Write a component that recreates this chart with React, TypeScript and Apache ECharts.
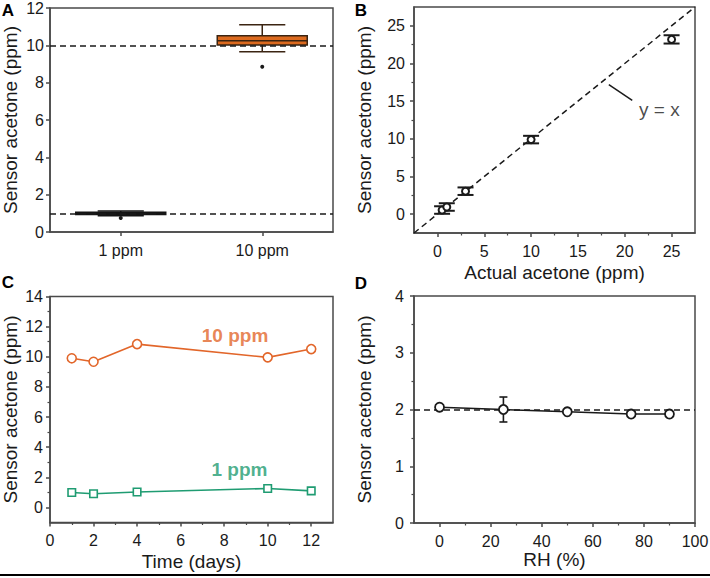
import React, { useEffect, useRef } from 'react';
import * as echarts from 'echarts';

// ---------- Panel A: box plot ----------
const boxCategories = ['1 ppm', '10 ppm'];
// [min, Q1, median, Q3, max]
const boxStats = [
  [0.87, 0.94, 1.0, 1.06, 1.12],
  [9.65, 10.02, 10.25, 10.52, 11.1],
];
const boxOutliers = [
  [0, 0.75],
  [1, 8.85],
];
const boxRefLines = [1, 10];
const aYTicks = [0, 2, 4, 6, 8, 10, 12];

// ---------- Panel B: accuracy ----------
const actualAcetone = [0.5, 1, 3, 10, 25];
const sensorAcetone = [0.55, 0.95, 3.05, 9.9, 23.2];
const sensorError = [0.5, 0.5, 0.5, 0.5, 0.55];
const identityLine = [-2.5, 27.5];
const identityLeader = [
  [18.3, 17.2],
  [20.8, 15.1],
];
const identityLabelPos = [23.7, 13.9];
const bTicks = [0, 5, 10, 15, 20, 25];
const bMinor = [2.5, 7.5, 12.5, 17.5, 22.5];

// ---------- Panel C: stability over days ----------
const days = [1, 2, 4, 10, 12];
const stability10 = [9.9, 9.67, 10.84, 9.96, 10.51];
const stability1 = [0.99, 0.91, 1.02, 1.26, 1.1];
const label10Pos = [8.5, 11.4];
const label1Pos = [8.7, 2.5];
const cXTicks = [0, 2, 4, 6, 8, 10, 12];
const cXMinor = [1, 3, 5, 7, 9, 11];
const cYTicks = [0, 2, 4, 6, 8, 10, 12, 14];
const cYMinor = [1, 3, 5, 7, 9, 11, 13];

// ---------- Panel D: humidity ----------
const humidity = [0, 25, 50, 75, 90];
const humiditySensor = [2.04, 2.0, 1.96, 1.92, 1.92];
const humidityError = [0.03, 0.22, 0.02, 0.02, 0.02];
const humidityRef = 2;
const dXTicks = [0, 20, 40, 60, 80, 100];
const dXMinor = [10, 30, 50, 70, 90];
const dYTicks = [0, 1, 2, 3, 4];
const dYMinor = [0.5, 1.5, 2.5, 3.5];

const FONT = '"Liberation Sans", Arial, Helvetica, sans-serif';
const INK = '#1a1a1a';
const FRAME = '#4a4a4a';
const ORANGE = '#e2662a';
const GREEN = '#1f9c72';
const BOX_FILL = ['#141414', '#dc6a1f'];
const BOX_STROKE = ['#141414', '#3b2412'];

type AxisSpec = {
  grid: number;
  dim: 'x' | 'y';
  min: number;
  max: number;
  majors: number[];
  minors: number[];
  name?: string;
  nameGap?: number;
  labelMargin: number;
};

function makeAxes(s: AxisSpec) {
  const common: any = {
    type: 'value',
    gridIndex: s.grid,
    min: s.min,
    max: s.max,
    position: s.dim === 'x' ? 'bottom' : 'left',
    splitLine: { show: false },
  };
  const main: any = {
    ...common,
    name: s.name,
    nameLocation: 'middle',
    nameGap: s.nameGap,
    nameTextStyle: { fontFamily: FONT, fontSize: 19, color: INK },
    axisLine: { show: true, onZero: false, lineStyle: { color: FRAME, width: 1.5 } },
    axisTick: {
      show: true,
      inside: false,
      length: 4,
      customValues: s.majors,
      lineStyle: { color: FRAME, width: 1.5 },
    },
    axisLabel: {
      show: true,
      margin: s.labelMargin,
      customValues: s.majors,
      fontFamily: FONT,
      fontSize: 16,
      color: INK,
    },
  };
  const minor: any = {
    ...common,
    axisLine: { show: false, onZero: false },
    axisTick: {
      show: true,
      inside: false,
      length: 2.5,
      customValues: s.minors,
      lineStyle: { color: FRAME, width: 1.2 },
    },
    axisLabel: { show: false },
  };
  return [main, minor];
}

function errorBarRenderer(capHalf: number, width: number) {
  return (params: any, api: any) => {
    const x = api.value(0);
    const y = api.value(1);
    const e = api.value(2);
    const top = api.coord([x, y + e]);
    const bot = api.coord([x, y - e]);
    const style = { stroke: INK, lineWidth: width, fill: 'none' };
    return {
      type: 'group',
      children: [
        { type: 'line', shape: { x1: top[0], y1: top[1], x2: bot[0], y2: bot[1] }, style },
        { type: 'line', shape: { x1: top[0] - capHalf, y1: top[1], x2: top[0] + capHalf, y2: top[1] }, style },
        { type: 'line', shape: { x1: bot[0] - capHalf, y1: bot[1], x2: bot[0] + capHalf, y2: bot[1] }, style },
      ],
    };
  };
}

function boxRenderer(params: any, api: any) {
  const c = api.value(0);
  const mn = api.value(1);
  const q1 = api.value(2);
  const md = api.value(3);
  const q3 = api.value(4);
  const mx = api.value(5);
  const band = api.size([1, 0])[0];
  const boxHalf = band * 0.318;
  const capHalf = band * 0.163;
  const p = (v: number) => api.coord([c, v]);
  const pMin = p(mn), pQ1 = p(q1), pMd = p(md), pQ3 = p(q3), pMax = p(mx);
  const cx = pMd[0];
  const stroke = BOX_STROKE[params.dataIndex];
  const fill = BOX_FILL[params.dataIndex];
  const ls = { stroke, lineWidth: 1.5, fill: 'none' };
  return {
    type: 'group',
    children: [
      { type: 'line', shape: { x1: cx, y1: pMax[1], x2: cx, y2: pQ3[1] }, style: ls },
      { type: 'line', shape: { x1: cx, y1: pQ1[1], x2: cx, y2: pMin[1] }, style: ls },
      { type: 'line', shape: { x1: cx - capHalf, y1: pMax[1], x2: cx + capHalf, y2: pMax[1] }, style: ls },
      { type: 'line', shape: { x1: cx - capHalf, y1: pMin[1], x2: cx + capHalf, y2: pMin[1] }, style: ls },
      {
        type: 'rect',
        shape: { x: cx - boxHalf, y: pQ3[1], width: boxHalf * 2, height: pQ1[1] - pQ3[1] },
        style: { fill, stroke, lineWidth: 1.5 },
      },
      { type: 'line', shape: { x1: cx - boxHalf, y1: pMd[1], x2: cx + boxHalf, y2: pMd[1] }, style: ls },
    ],
  };
}

export default function App() {
  const ref = useRef<HTMLDivElement>(null);

  useEffect(() => {
    if (!ref.current) return;
    const chart = echarts.init(ref.current, undefined, { renderer: 'svg' });

    const gridBase = { show: true, borderColor: FRAME, borderWidth: 1.5, backgroundColor: 'transparent', containLabel: false, outerBoundsMode: 'none' };
    const grids = [
      { ...gridBase, left: 50, top: 8, width: 283, height: 224 },
      { ...gridBase, left: 414, top: 7, width: 281, height: 226 },
      { ...gridBase, left: 50, top: 296.5, width: 283, height: 226 },
      { ...gridBase, left: 414, top: 296, width: 281, height: 227 },
    ];

    const aX: any = {
      type: 'category',
      gridIndex: 0,
      data: boxCategories,
      position: 'bottom',
      axisLine: { show: true, onZero: false, lineStyle: { color: FRAME, width: 1.5 } },
      axisTick: { show: true, alignWithLabel: true, length: 4, lineStyle: { color: FRAME, width: 1.5 } },
      axisLabel: { margin: 10, fontFamily: FONT, fontSize: 16, color: INK },
      splitLine: { show: false },
    };
    const aY: any = {
      type: 'value',
      gridIndex: 0,
      min: 0,
      max: 12,
      interval: 2,
      position: 'left',
      name: 'Sensor acetone (ppm)',
      nameLocation: 'middle',
      nameGap: 30,
      nameTextStyle: { fontFamily: FONT, fontSize: 19, color: INK },
      axisLine: { show: true, onZero: false, lineStyle: { color: FRAME, width: 1.5 } },
      axisTick: { show: true, length: 4, customValues: aYTicks, lineStyle: { color: FRAME, width: 1.5 } },
      axisLabel: { margin: 6, customValues: aYTicks, fontFamily: FONT, fontSize: 16, color: INK },
      splitLine: { show: false },
    };

    const bXs = makeAxes({ grid: 1, dim: 'x', min: -2.5, max: 27.5, majors: bTicks, minors: bMinor, name: 'Actual acetone (ppm)', nameGap: 30, labelMargin: 10 });
    const bYs = makeAxes({ grid: 1, dim: 'y', min: -2.5, max: 27.5, majors: bTicks, minors: bMinor, name: 'Sensor acetone (ppm)', nameGap: 40, labelMargin: 9 });
    const cXs = makeAxes({ grid: 2, dim: 'x', min: 0, max: 13, majors: cXTicks, minors: cXMinor, name: 'Time (days)', nameGap: 29, labelMargin: 10 });
    const cYs = makeAxes({ grid: 2, dim: 'y', min: -1, max: 14, majors: cYTicks, minors: cYMinor, name: 'Sensor acetone (ppm)', nameGap: 30, labelMargin: 7 });
    const dXs = makeAxes({ grid: 3, dim: 'x', min: -10, max: 100, majors: dXTicks, minors: dXMinor, name: 'RH (%)', nameGap: 27, labelMargin: 10 });
    const dYs = makeAxes({ grid: 3, dim: 'y', min: 0, max: 4, majors: dYTicks, minors: dYMinor, name: 'Sensor acetone (ppm)', nameGap: 40, labelMargin: 10 });

    const xAxis = [aX, bXs[0], bXs[1], cXs[0], cXs[1], dXs[0], dXs[1]];
    const yAxis = [aY, bYs[0], bYs[1], cYs[0], cYs[1], dYs[0], dYs[1]];

    const dashed = { type: [6, 4] as any, color: INK, width: 1.5 };

    const series: any[] = [
      // Panel A
      {
        type: 'custom',
        xAxisIndex: 0,
        yAxisIndex: 0,
        data: boxStats.map((s, i) => [i, ...s]),
        encode: { x: 0, y: [1, 2, 3, 4, 5] },
        renderItem: boxRenderer,
        z: 3,
      },
      {
        type: 'scatter',
        xAxisIndex: 0,
        yAxisIndex: 0,
        data: boxOutliers,
        symbol: 'circle',
        symbolSize: 4,
        itemStyle: { color: INK, opacity: 1 },
        z: 4,
        markLine: {
          silent: true,
          symbol: ['none', 'none'],
          label: { show: false },
          lineStyle: dashed,
          data: boxRefLines.map((v) => ({ yAxis: v })),
        },
      },
      // Panel B
      {
        type: 'line',
        xAxisIndex: 1,
        yAxisIndex: 1,
        data: [
          [identityLine[0], identityLine[0]],
          [identityLine[1], identityLine[1]],
        ],
        symbol: 'none',
        lineStyle: dashed,
        z: 2,
      },
      {
        type: 'line',
        xAxisIndex: 1,
        yAxisIndex: 1,
        data: identityLeader,
        symbol: 'none',
        lineStyle: { color: INK, width: 1.5 },
        z: 2,
      },
      {
        type: 'scatter',
        xAxisIndex: 1,
        yAxisIndex: 1,
        data: [identityLabelPos],
        symbolSize: 1,
        itemStyle: { color: 'rgba(0,0,0,0)' },
        label: { show: true, position: 'inside', formatter: 'y = x', fontFamily: FONT, fontSize: 19, color: INK },
        z: 2,
      },
      {
        type: 'custom',
        xAxisIndex: 1,
        yAxisIndex: 1,
        data: actualAcetone.map((x, i) => [x, sensorAcetone[i], sensorError[i]]),
        encode: { x: 0, y: 1 },
        renderItem: errorBarRenderer(8, 2),
        z: 3,
      },
      {
        type: 'scatter',
        xAxisIndex: 1,
        yAxisIndex: 1,
        data: actualAcetone.map((x, i) => [x, sensorAcetone[i]]),
        symbol: 'circle',
        symbolSize: 7,
        itemStyle: { color: '#ffffff', borderColor: INK, borderWidth: 2, opacity: 1 },
        z: 4,
      },
      // Panel C
      {
        type: 'line',
        xAxisIndex: 3,
        yAxisIndex: 3,
        data: days.map((d, i) => [d, stability10[i]]),
        symbol: 'circle',
        symbolSize: 9,
        lineStyle: { color: ORANGE, width: 1.6 },
        itemStyle: { color: '#ffffff', borderColor: ORANGE, borderWidth: 1.6 },
        z: 3,
      },
      {
        type: 'line',
        xAxisIndex: 3,
        yAxisIndex: 3,
        data: days.map((d, i) => [d, stability1[i]]),
        symbol: 'rect',
        symbolSize: 7.5,
        lineStyle: { color: GREEN, width: 1.6 },
        itemStyle: { color: '#ffffff', borderColor: GREEN, borderWidth: 1.6 },
        z: 3,
      },
      {
        type: 'scatter',
        xAxisIndex: 3,
        yAxisIndex: 3,
        symbolSize: 1,
        itemStyle: { color: 'rgba(0,0,0,0)' },
        data: [
          { value: label10Pos, label: { show: true, position: 'inside', formatter: '10 ppm', color: ORANGE } },
          { value: label1Pos, label: { show: true, position: 'inside', formatter: '1 ppm', color: GREEN } },
        ],
        label: { fontFamily: FONT, fontSize: 19, fontWeight: 'bold' },
        z: 3,
      },
      // Panel D
      {
        type: 'custom',
        xAxisIndex: 5,
        yAxisIndex: 5,
        data: humidity.map((x, i) => [x, humiditySensor[i], humidityError[i]]),
        encode: { x: 0, y: 1 },
        renderItem: errorBarRenderer(4, 1.6),
        z: 3,
      },
      {
        type: 'line',
        xAxisIndex: 5,
        yAxisIndex: 5,
        data: humidity.map((x, i) => [x, humiditySensor[i]]),
        symbol: 'circle',
        symbolSize: 9,
        lineStyle: { color: INK, width: 1.5 },
        itemStyle: { color: '#ffffff', borderColor: INK, borderWidth: 1.8 },
        z: 4,
        markLine: {
          silent: true,
          symbol: ['none', 'none'],
          label: { show: false },
          lineStyle: dashed,
          data: [{ yAxis: humidityRef }],
          z: 2,
        },
      },
    ];

    const letter = (text: string, x: number, y: number) => ({
      type: 'text',
      x,
      y,
      style: { text, fontFamily: FONT, fontSize: 17, fontWeight: 'bold', fill: '#000', textAlign: 'center', textVerticalAlign: 'middle', verticalAlign: 'middle' },
      z: 10,
    });

    chart.setOption({
      animation: false,
      backgroundColor: '#ffffff',
      grid: grids,
      xAxis,
      yAxis,
      series,
      graphic: [
        letter('A', 8, 10),
        letter('B', 361, 10),
        letter('C', 8, 282),
        letter('D', 361, 283),
        { type: 'rect', shape: { x: 0, y: 574, width: 710, height: 2 }, style: { fill: '#000' }, z: 10 },
      ],
    });

    return () => {
      chart.dispose();
    };
  }, []);

  return (
    <div
      ref={ref}
      style={{ position: 'absolute', left: 0, top: 0, width: 710, height: 578 }}
    />
  );
}
